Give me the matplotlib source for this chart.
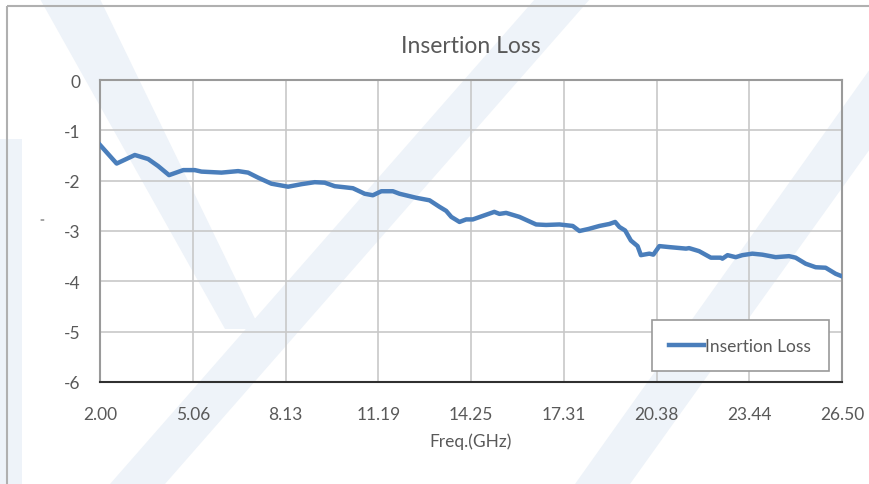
import matplotlib
matplotlib.use('Agg')
import matplotlib.pyplot as plt
from matplotlib.patches import Polygon, Rectangle

# --- data ---
freq = [2.00, 2.55, 3.15, 3.59, 3.92, 4.28, 4.75, 5.13, 5.35, 6.01, 6.56, 6.89,
        7.22, 7.66, 8.21, 8.65, 9.09, 9.42, 9.75, 10.06, 10.35, 10.74, 11.01,
        11.29, 11.67, 11.89, 12.44, 12.88, 13.21, 13.43, 13.60, 13.87, 14.09,
        14.31, 14.64, 15.02, 15.19, 15.41, 15.85, 16.40, 16.73, 17.17, 17.61,
        17.83, 18.13, 18.49, 18.82, 19.01, 19.15, 19.34, 19.53, 19.75, 19.86,
        20.14, 20.27, 20.47, 20.80, 21.35, 21.45, 21.78, 22.17, 22.50, 22.55,
        22.72, 22.99, 23.21, 23.54, 23.87, 24.31, 24.75, 24.97, 25.30, 25.63,
        25.96, 26.29, 26.50]
loss = [-1.29, -1.66, -1.49, -1.57, -1.71, -1.89, -1.79, -1.79, -1.82, -1.84,
        -1.81, -1.84, -1.94, -2.06, -2.12, -2.07, -2.03, -2.04, -2.11, -2.13,
        -2.15, -2.26, -2.29, -2.21, -2.21, -2.26, -2.34, -2.39, -2.52, -2.60,
        -2.72, -2.82, -2.77, -2.77, -2.70, -2.62, -2.66, -2.64, -2.72, -2.87,
        -2.88, -2.87, -2.90, -3.00, -2.96, -2.90, -2.86, -2.82, -2.92, -2.99,
        -3.19, -3.30, -3.48, -3.45, -3.47, -3.30, -3.32, -3.35, -3.34, -3.40,
        -3.53, -3.53, -3.55, -3.48, -3.52, -3.48, -3.45, -3.47, -3.52, -3.50,
        -3.53, -3.65, -3.72, -3.73, -3.85, -3.90]

x_ticks = [2.00, 5.06, 8.13, 11.19, 14.25, 17.31, 20.38, 23.44, 26.50]
y_ticks = [0, -1, -2, -3, -4, -5, -6]

txt = '#595959'
plt.rcParams['font.family'] = ['Lato', 'DejaVu Sans']
plt.rcParams['axes.unicode_minus'] = False

W, H = 870, 485
fig = plt.figure(figsize=(8.7, 4.85), dpi=100)

# background layer in pixel coords: faint watermark + outer frame
bg = fig.add_axes([0, 0, 1, 1], zorder=-10)
bg.set_xlim(0, W)
bg.set_ylim(H, 0)
bg.axis('off')
wm = '#eef3f9'
bands = [
    [(0, 140), (22, 140), (22, 485), (0, 485)],
    [(110, 485), (165, 485), (590, 0), (535, 0)],
    [(575, 485), (630, 485), (870, 150), (870, 70)],
    [(40, 0), (100, 0), (260, 330), (225, 330)],
]
for pts in bands:
    bg.add_patch(Polygon(pts, closed=True, color=wm, lw=0))
bg.add_patch(Rectangle((7, 7), 900, 600, fill=False, edgecolor='#b0b0b0', lw=1.5))

ax = fig.add_axes([100 / W, 1 - 383 / H, 742 / W, 302 / H], zorder=1)
ax.set_facecolor('none')
ax.plot(freq, loss, color='#4a7ebb', lw=3.2, label='Insertion Loss', zorder=3)

ax.set_xlim(2.0, 26.5)
ax.set_ylim(-6, 0)
ax.set_xticks(x_ticks)
ax.set_xticklabels([f'{v:.2f}' for v in x_ticks])
ax.set_yticks(y_ticks)
ax.grid(True, color='#c8c8c8', lw=1.2)
ax.tick_params(length=0, labelsize=12.5, colors=txt)
ax.tick_params(axis='x', pad=17)
ax.tick_params(axis='y', pad=14)
for s in ['top', 'right', 'left']:
    ax.spines[s].set_color('#9a9a9a')
    ax.spines[s].set_linewidth(1.5)
ax.spines['bottom'].set_color('#303030')
ax.spines['bottom'].set_linewidth(1.5)

ax.set_title('Insertion Loss', fontsize=16.5, color=txt, pad=20)
ax.set_xlabel('Freq.(GHz)', fontsize=12.5, color=txt, labelpad=8)
fig.text(42 / W, 1 - 220 / H, '=', fontsize=6, color=txt, ha='center', va='center')

leg = ax.legend(loc='lower right', bbox_to_anchor=(0.982, 0.036), borderaxespad=0,
                fontsize=12.5, frameon=True, fancybox=False, handlelength=2.0,
                handletextpad=0.1, borderpad=1.0, labelcolor=txt, framealpha=1)
leg.get_frame().set_edgecolor('#9a9a9a')
leg.get_frame().set_linewidth(1.2)

fig.savefig('out.png', dpi=100, facecolor='white')
